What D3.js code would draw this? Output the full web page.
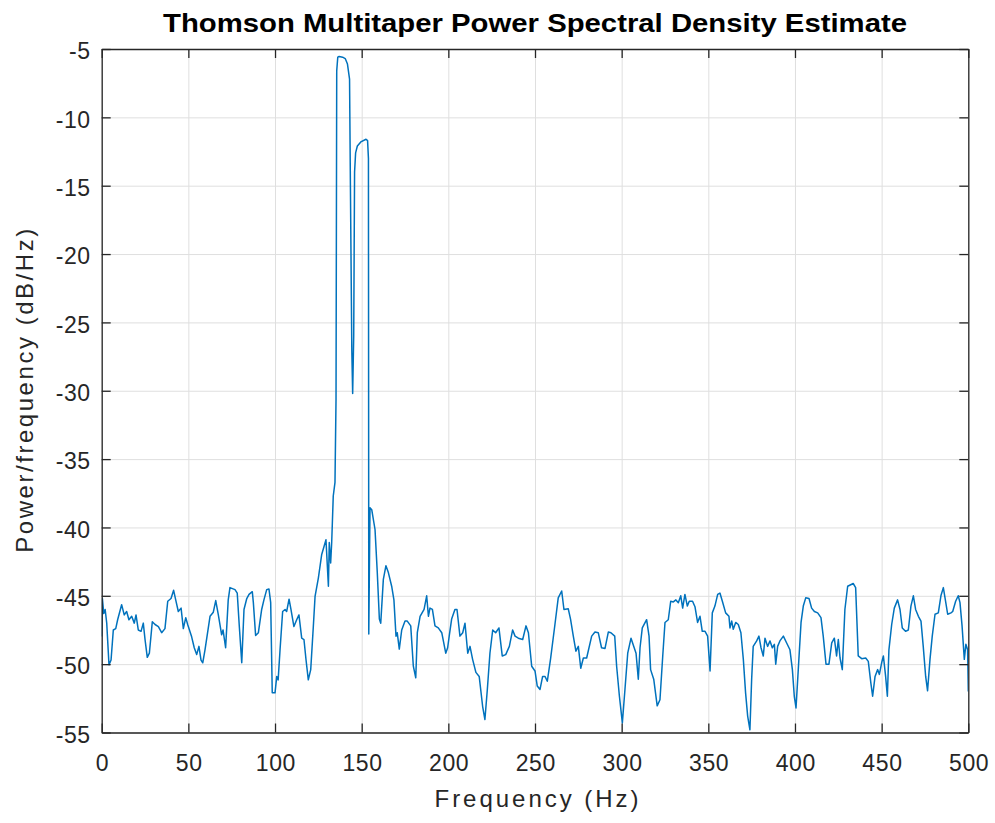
<!DOCTYPE html>
<html>
<head>
<meta charset="utf-8">
<script src="https://cdn.jsdelivr.net/npm/d3@7"></script>
<style>
  html, body { margin: 0; padding: 0; background: #ffffff; }
  svg { display: block; }
  text { font-family: "Liberation Sans", Arial, Helvetica, sans-serif; }
</style>
</head>
<body>
<div id="chart"></div>
<script>
// ---- Data ----
const titleText = "Thomson Multitaper Power Spectral Density Estimate";
const xLabelText = "Frequency (Hz)";
const yLabelText = "Power/frequency (dB/Hz)";

const xTicks = [0, 50, 100, 150, 200, 250, 300, 350, 400, 450, 500];
const xTickLabels = ["0", "50", "100", "150", "200", "250", "300", "350", "400", "450", "500"];
const yTicks = [-55, -50, -45, -40, -35, -30, -25, -20, -15, -10, -5];
const yTickLabels = ["-55", "-50", "-45", "-40", "-35", "-30", "-25", "-20", "-15", "-10", "-5"];

const freqHz = [
  0, 0.4, 1.2, 2.0, 2.9, 4.2, 5.4, 6.7, 8.1, 9.2, 11.5, 13.0, 14.4, 15.7, 17.3, 18.8, 19.8, 21.1, 22.7, 24.0,
  25.0, 26.3, 27.5, 29.2, 30.8, 32.7, 34.6, 36.5, 38.1, 40.0, 41.5, 42.7, 44.2, 45.8, 47.1, 48.5, 49.6, 51.9, 53.4, 54.8,
  56.1, 57.3, 58.3, 59.6, 62.5, 64.4, 65.8, 67.3, 69.2, 70.0, 71.5, 73.0, 74.0, 76.9, 78.2, 79.4, 80.8, 82.1, 83.7, 85.0,
  86.9, 87.5, 88.8, 90.4, 92.3, 93.6, 95.2, 96.5, 97.5, 98.4, 100.0, 101.0, 101.8, 102.9, 104.4, 105.8, 106.7, 108.1, 109.2, 110.9,
  112.5, 113.8, 115.4, 116.7, 117.9, 119.2, 120.6, 122.1, 123.1, 125.0, 126.9, 129.4, 130.8, 131.3, 132.1, 132.7, 133.6, 134.6, 135.2, 135.6,
  136.2, 137.0, 139.0, 140.5, 141.8, 143.0, 143.5, 144.3, 144.8, 145.4, 145.9, 146.5, 147.5, 149.5, 152.5, 153.4, 153.9, 154.1, 154.8, 155.8,
  157.7, 159.0, 160.2, 161.0, 162.5, 164.0, 165.4, 167.3, 168.6, 169.8, 170.5, 171.7, 173.1, 175.0, 176.3, 178.3, 179.8, 181.2, 182.1, 183.7,
  186.0, 187.5, 188.5, 189.4, 190.8, 192.3, 194.2, 196.2, 198.5, 199.6, 200.5, 201.9, 203.8, 205.0, 206.7, 208.3, 209.6, 211.2, 212.5, 214.0,
  215.9, 217.8, 219.8, 221.1, 222.5, 224.0, 225.6, 227.3, 229.2, 231.1, 233.1, 235.2, 237.1, 238.5, 240.4, 242.9, 244.8, 246.2, 248.1, 250.0,
  251.3, 252.9, 254.4, 255.8, 257.1, 259.0, 261.5, 263.4, 265.4, 266.7, 269.2, 270.5, 272.1, 273.6, 275.0, 276.4, 277.9, 279.8, 282.7, 284.6,
  286.5, 288.4, 290.4, 292.3, 293.8, 296.0, 297.1, 298.7, 300.4, 301.9, 303.5, 305.4, 306.7, 308.3, 309.6, 310.6, 311.9, 314.4, 315.8, 316.7,
  318.5, 320.5, 322.1, 323.7, 325.0, 326.9, 328.3, 329.8, 331.3, 332.7, 334.1, 335.2, 336.5, 337.9, 339.0, 340.9, 342.3, 343.8, 345.2, 346.5,
  348.1, 349.6, 351.0, 352.3, 353.8, 355.4, 356.7, 358.1, 360.0, 361.9, 362.5, 363.5, 364.4, 365.8, 367.3, 368.8, 370.2, 371.5, 372.7, 374.0,
  375.0, 375.9, 377.9, 379.2, 380.4, 381.7, 382.7, 384.2, 385.6, 386.9, 388.1, 388.9, 390.0, 391.3, 393.3, 395.2, 397.1, 398.5, 399.6, 400.6,
  401.9, 403.5, 404.8, 406.2, 408.1, 409.6, 411.2, 413.1, 415.0, 416.3, 417.9, 419.6, 421.2, 422.7, 424.0, 425.0, 426.0, 427.3, 428.8, 430.4,
  433.6, 435.0, 436.5, 438.5, 440.8, 442.3, 443.8, 444.8, 446.2, 447.7, 448.7, 450.0, 451.0, 452.3, 453.3, 454.2, 455.8, 457.3, 459.2, 460.6,
  461.9, 463.8, 465.4, 466.9, 468.3, 469.6, 471.2, 472.7, 474.0, 475.4, 476.5, 477.9, 479.2, 480.8, 482.7, 484.2, 485.6, 486.9, 488.1, 490.0,
  491.0, 492.7, 494.2, 495.2, 496.4, 497.7, 498.6, 499.6, 500.0
];

const psdDb = [
  -47.98, -45.2, -46.3, -46.0, -47.0, -50.05, -49.7, -47.5, -47.4, -46.75, -45.65, -46.4, -46.15, -46.75, -46.5, -47.0, -46.4, -47.5, -47.6, -47.0,
  -48.2, -49.5, -49.2, -46.9, -47.1, -47.25, -47.7, -47.4, -45.4, -45.2, -44.6, -45.3, -46.15, -45.9, -47.4, -46.6, -47.1, -48.0, -48.8, -49.3,
  -48.7, -49.7, -49.9, -48.95, -46.5, -46.2, -45.35, -46.4, -47.85, -47.5, -48.8, -45.3, -44.4, -44.55, -44.8, -47.25, -49.9, -46.0, -45.2, -44.9,
  -44.7, -45.5, -47.9, -47.7, -46.0, -45.3, -44.55, -44.5, -45.5, -52.1, -52.1, -50.9, -51.15, -48.95, -46.15, -46.0, -46.15, -45.25, -46.0, -47.25,
  -46.75, -46.4, -48.1, -48.2, -49.7, -51.15, -50.4, -47.25, -45.05, -43.7, -42.0, -40.9, -44.3, -41.1, -42.6, -41.1, -37.7, -36.7, -30.6, -6.6,
  -5.6, -5.55, -5.6, -5.7, -6.1, -7.2, -15.0, -27.0, -30.2, -26.0, -14.0, -12.6, -12.1, -11.8, -11.6, -11.7, -13.0, -47.8, -38.55, -38.7,
  -40.15, -43.3, -46.7, -47.0, -43.8, -42.8, -43.3, -44.3, -45.3, -47.95, -47.7, -48.9, -47.5, -46.85, -46.85, -47.2, -50.15, -51.0, -47.7, -46.5,
  -46.0, -45.0, -46.5, -45.9, -46.0, -47.2, -47.35, -47.7, -49.2, -48.8, -47.95, -46.7, -46.0, -46.0, -47.95, -47.7, -47.0, -49.2, -48.7, -49.65,
  -50.6, -50.9, -53.1, -54.05, -51.85, -49.2, -47.5, -47.7, -47.35, -49.4, -49.3, -48.7, -47.5, -47.95, -48.1, -48.2, -47.2, -47.7, -50.15, -50.5,
  -51.6, -51.85, -50.9, -50.9, -51.25, -49.6, -47.1, -45.15, -44.65, -46.0, -45.95, -46.7, -47.95, -49.05, -48.7, -50.3, -49.55, -49.55, -47.95, -47.65,
  -47.7, -48.8, -48.85, -47.65, -47.7, -47.95, -50.15, -52.35, -54.3, -51.85, -49.2, -48.1, -48.6, -49.2, -51.1, -48.8, -47.35, -46.75, -47.95, -50.4,
  -51.1, -53.05, -52.6, -49.4, -46.95, -46.75, -45.4, -45.45, -45.3, -45.5, -45.0, -45.9, -44.9, -45.75, -45.4, -45.4, -45.8, -46.95, -46.5, -47.6,
  -47.6, -47.95, -50.5, -46.25, -45.75, -44.9, -44.8, -45.4, -46.25, -46.5, -47.35, -46.85, -47.45, -46.95, -47.1, -47.7, -49.65, -52.1, -53.8, -54.8,
  -51.1, -48.7, -48.3, -47.95, -48.8, -49.4, -48.1, -48.7, -48.3, -48.8, -48.55, -50.0, -48.7, -48.3, -47.95, -48.45, -48.95, -50.4, -52.35, -53.2,
  -50.4, -46.95, -45.75, -45.15, -45.2, -45.9, -46.15, -46.25, -46.6, -47.95, -50.0, -50.0, -48.45, -48.1, -49.4, -48.2, -49.55, -50.4, -46.0, -44.3,
  -44.1, -44.4, -49.4, -49.6, -49.55, -49.8, -51.4, -52.35, -50.9, -50.4, -50.75, -49.9, -49.4, -50.9, -52.35, -48.95, -47.1, -45.9, -45.3, -46.0,
  -47.35, -47.6, -47.5, -45.75, -45.0, -46.0, -46.5, -46.85, -48.7, -50.9, -51.95, -49.65, -47.95, -46.35, -46.25, -45.0, -44.4, -45.4, -46.35, -46.25,
  -46.15, -45.4, -45.0, -45.5, -47.2, -49.65, -48.55, -48.95, -52.0
];

// ---- Layout ----
const W = 995, H = 823;
const margin = { left: 101.7, right: 995 - 968.3, top: 49, bottom: 823 - 732.5 };
const plotW = W - margin.left - margin.right;
const plotH = H - margin.top - margin.bottom;
const axisColor = "#262626";
const lineColor = "#0072BD";

const svg = d3.select("#chart").append("svg")
  .attr("width", W).attr("height", H)
  .style("background", "#fff");

const x = d3.scaleLinear().domain([0, 500]).range([margin.left, margin.left + plotW]);
const y = d3.scaleLinear().domain([-55, -5]).range([margin.top + plotH, margin.top]);

// grid
const grid = svg.append("g").attr("class", "grid");
grid.append("g")
  .attr("transform", `translate(0,${margin.top + plotH})`)
  .call(d3.axisBottom(x).tickValues(xTicks).tickSize(-plotH).tickFormat(""))
  .call(g => g.select(".domain").remove());
grid.append("g")
  .attr("transform", `translate(${margin.left},0)`)
  .call(d3.axisLeft(y).tickValues(yTicks).tickSize(-plotW).tickFormat(""))
  .call(g => g.select(".domain").remove());
grid.selectAll("line").attr("stroke", "#dfdfdf").attr("stroke-width", 1);

// data line
svg.append("defs").append("clipPath").attr("id", "clip")
  .append("rect").attr("x", margin.left).attr("y", margin.top).attr("width", plotW).attr("height", plotH);

const pts = freqHz.map((f, i) => [f, psdDb[i]]);
svg.append("path")
  .datum(pts)
  .attr("clip-path", "url(#clip)")
  .attr("fill", "none")
  .attr("stroke", lineColor)
  .attr("stroke-width", 1.5)
  .attr("stroke-linejoin", "round")
  .attr("d", d3.line().x(d => x(d[0])).y(d => y(d[1])));

// axes
const tickFont = 23;
const bottomAxis = svg.append("g")
  .attr("transform", `translate(0,${margin.top + plotH})`)
  .call(d3.axisBottom(x).tickValues(xTicks).tickFormat((d, i) => xTickLabels[i])
    .tickSizeInner(-9).tickSizeOuter(0).tickPadding(22.5));
const leftAxis = svg.append("g")
  .attr("transform", `translate(${margin.left},0)`)
  .call(d3.axisLeft(y).tickValues(yTicks).tickFormat((d, i) => yTickLabels[i])
    .tickSizeInner(-9).tickSizeOuter(0).tickPadding(11));
const topAxis = svg.append("g")
  .attr("transform", `translate(0,${margin.top})`)
  .call(d3.axisTop(x).tickValues(xTicks).tickFormat("").tickSizeInner(-9).tickSizeOuter(0));
const rightAxis = svg.append("g")
  .attr("transform", `translate(${margin.left + plotW},0)`)
  .call(d3.axisRight(y).tickValues(yTicks).tickFormat("").tickSizeInner(-9).tickSizeOuter(0));

[bottomAxis, leftAxis, topAxis, rightAxis].forEach(g => {
  g.select(".domain").attr("stroke", axisColor).attr("stroke-width", 1.3);
  g.selectAll(".tick line").attr("stroke", axisColor).attr("stroke-width", 1.3);
  g.selectAll("text")
    .attr("fill", axisColor)
    .style("font-size", tickFont + "px")
    .style("letter-spacing", "0.6px");
});
bottomAxis.selectAll("text").attr("dx", "0.3px");
leftAxis.selectAll("text").attr("dy", "0.42em");

// title
svg.append("text")
  .attr("x", margin.left + plotW / 2)
  .attr("y", 31.5)
  .attr("text-anchor", "middle")
  .attr("fill", "#000")
  .style("font-size", "26px")
  .style("font-weight", "bold")
  .attr("textLength", 744)
  .attr("lengthAdjust", "spacingAndGlyphs")
  .text(titleText);

// x label
svg.append("text")
  .attr("x", 536.5)
  .attr("y", 806.5)
  .attr("text-anchor", "middle")
  .attr("fill", axisColor)
  .style("font-size", "24px")
  .attr("textLength", 204)
  .attr("lengthAdjust", "spacing")
  .text(xLabelText);

// y label
svg.append("text")
  .attr("transform", `translate(32.5,${margin.top + plotH / 2}) rotate(-90)`)
  .attr("text-anchor", "middle")
  .attr("fill", axisColor)
  .style("font-size", "24px")
  .attr("textLength", 324)
  .attr("lengthAdjust", "spacing")
  .text(yLabelText);
</script>
</body>
</html>
